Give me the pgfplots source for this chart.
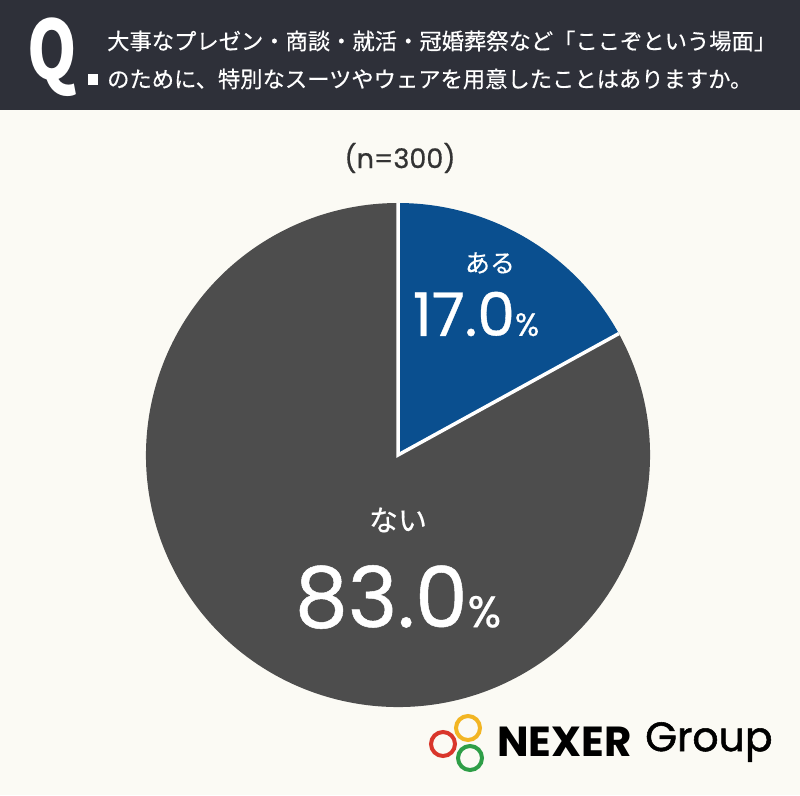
\documentclass[border=0pt]{standalone}
\usepackage{pgfplots}
\pgfplotsset{compat=1.18}
\usepackage{fontspec}
\setmainfont{Noto Sans CJK JP}
\newfontfamily\logofont{Poppins}
\newfontfamily\logomed[FakeBold=1.3]{Poppins}
\newfontfamily\numfont[FakeBold=0.6]{Poppins}
\newfontfamily\hdrfont[FakeBold=0.4]{Noto Sans CJK JP}
\definecolor{hdr}{HTML}{2E3039}
\definecolor{bg}{HTML}{FBFAF4}
\definecolor{pieblue}{HTML}{0A4F8F}
\definecolor{piegray}{HTML}{4D4D4D}
\definecolor{ntext}{HTML}{333333}
\definecolor{ringY}{HTML}{F2B523}
\definecolor{ringR}{HTML}{D9362B}
\definecolor{ringG}{HTML}{2E9E47}
% data: share in percent
\def\valAru{17.0}
\def\valNai{83.0}
\begin{document}
\begin{tikzpicture}
\begin{axis}[
  width=800pt, height=795pt, scale only axis,
  xmin=0, xmax=800, ymin=0, ymax=795, y dir=reverse,
  hide axis, clip=false]
% background and header
\fill[bg] (axis cs:0,0) rectangle (axis cs:800,795);
\fill[hdr] (axis cs:0,0) rectangle (axis cs:800,110);
\node[white, inner sep=0pt] at (axis cs:52,57) {\scalebox{0.85}[1.1]{\fontsize{74}{74}\selectfont\bfseries Q}};
\fill[white] (axis cs:88,74) rectangle (axis cs:98,85);
\node[white, anchor=west, font=\hdrfont\fontsize{22.3}{26}\selectfont, inner sep=0pt] at (axis cs:107,41) {大事なプレゼン・商談・就活・冠婚葬祭など「ここぞという場面」};
\node[white, anchor=west, font=\hdrfont\fontsize{22.3}{26}\selectfont, inner sep=0pt] at (axis cs:107,79) {のために、特別なスーツやウェアを用意したことはありますか。};
\node[ntext, font=\numfont\fontsize{27}{30}\selectfont] at (axis cs:400,158) {(n=300)};
% pie
\pgfmathsetmacro{\angA}{90-3.6*\valAru}
\pgfmathsetmacro{\angB}{\angA-3.6*\valNai}
\fill[pieblue] (axis cs:398,455) -- (axis cs:398,203) arc[start angle=90, end angle=\angA, radius=252pt] -- cycle;
\fill[piegray] (axis cs:398,455) -- ++(\angA:252pt) arc[start angle=\angA, end angle=\angB, radius=252pt] -- cycle;
\draw[white, line width=3.5pt] (axis cs:398,203) -- (axis cs:398,455) -- ++(\angA:252pt);
% labels
\node[white, font=\hdrfont\fontsize{25}{28}\selectfont] at (axis cs:490,263) {ある};
\node[white, inner sep=0pt] at (axis cs:476,314) {\numfont\fontsize{60}{60}\selectfont 17.0\fontsize{32}{36}\selectfont\%};
\node[white, font=\hdrfont\fontsize{29}{32}\selectfont] at (axis cs:398,520) {ない};
\node[white, inner sep=0pt] at (axis cs:398,597) {\numfont\fontsize{84}{84}\selectfont 83.0\fontsize{44}{48}\selectfont\%};
% logo
\draw[ringY, line width=4pt] (axis cs:468,728) circle[radius=12pt];
\draw[ringR, line width=4pt] (axis cs:443,744) circle[radius=12pt];
\draw[ringG, line width=4pt] (axis cs:470,758) circle[radius=12pt];
\node[black, anchor=west, inner sep=0pt, font=\logofont\bfseries\fontsize{42}{44}\selectfont] at (axis cs:497,742) {NEXER};
\node[black, anchor=west, inner sep=0pt, font=\logomed\fontsize{41}{44}\selectfont] at (axis cs:645,742) {Group};
\end{axis}
\end{tikzpicture}
\end{document}
